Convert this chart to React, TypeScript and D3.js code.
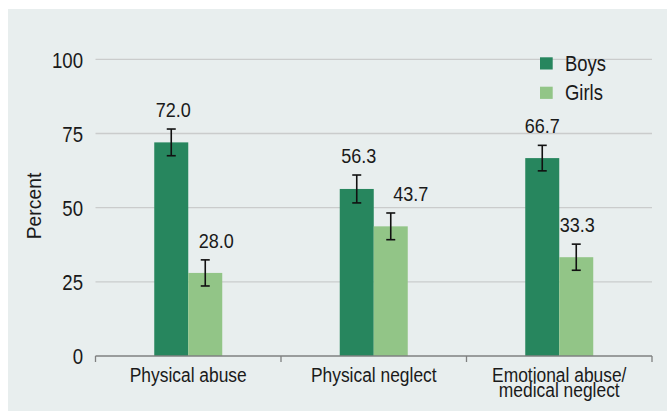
import React from "react";
import * as d3 from "d3";

const categories: string[][] = [["Physical abuse"], ["Physical neglect"], ["Emotional abuse/", "medical neglect"]];
const seriesNames = ["Boys", "Girls"];
const boys = [72.0, 56.3, 66.7];
const girls = [28.0, 43.7, 33.3];
const boysErr = [4.5, 4.7, 4.3];
const girlsErr = [4.4, 4.5, 4.4];
const yTicks = [0, 25, 50, 75, 100];

const colors = ["#27865e", "#92c587"];
const FONT = "'Liberation Sans', Arial, sans-serif";
const labelDx = [[2, 11], [2, 20], [0, 1]];
const textColor = "#1a1a1a";

function T(props: { x: number; y: number; size: number; sx?: number; anchor?: string; rotate?: number; children: React.ReactNode }) {
  const { x, y, size, sx = 0.84, anchor = "start", rotate = 0, children } = props;
  return (
    <text
      transform={`translate(${x},${y}) rotate(${rotate}) scale(${sx},1)`}
      textAnchor={anchor}
      fontSize={size}
      fill={textColor}
    >
      {children}
    </text>
  );
}

export default function App() {
  const W = 667, H = 411;
  const x0 = 95.5, x1 = 652;
  const y = d3.scaleLinear().domain([0, 100]).range([356, 59.3]);
  const xb = d3.scaleBand<number>().domain(categories.map((_, i) => i)).range([x0, x1]).paddingInner(0).paddingOuter(0);
  const barW = 34;
  const series = [boys, girls];
  const errs = [boysErr, girlsErr];

  return (
    <svg width={W} height={H} style={{ position: "absolute", left: 0, top: 0, display: "block" }} fontFamily={FONT}>
      <rect x={8} y={9} width={W - 8} height={H - 9} fill="#e8eeee" />
      {yTicks.filter((t) => t > 0).map((t) => (
        <line key={t} x1={x0} x2={x1} y1={y(t)} y2={y(t)} stroke="#cacccc" strokeWidth={1.3} />
      ))}
      {yTicks.map((t) => (
        <T key={t} x={83} y={y(t) + 8.3} size={23} sx={0.81} anchor="end">
          {t}
        </T>
      ))}
      <T x={41} y={206} size={21} sx={0.92} anchor="middle" rotate={-90}>
        Percent
      </T>
      {categories.map((c, i) => {
        const cx = (xb(i) as number) + xb.bandwidth() / 2;
        return (
          <g key={i}>
            {series.map((s, k) => {
              const bx = cx - barW + k * barW;
              const v = s[i];
              const e = errs[k][i];
              const mx = bx + barW / 2;
              return (
                <g key={k}>
                  <rect x={bx} y={y(v)} width={barW} height={y(0) - y(v)} fill={colors[k]} />
                  <line x1={mx} x2={mx} y1={y(v + e)} y2={y(v - e)} stroke="#111" strokeWidth={1.6} />
                  <line x1={mx - 4.5} x2={mx + 4.5} y1={y(v + e)} y2={y(v + e)} stroke="#111" strokeWidth={1.6} />
                  <line x1={mx - 4.5} x2={mx + 4.5} y1={y(v - e)} y2={y(v - e)} stroke="#111" strokeWidth={1.6} />
                  <T x={mx + labelDx[i][k]} y={y(v + e) - 12} size={21} sx={0.86} anchor="middle">
                    {v.toFixed(1)}
                  </T>
                </g>
              );
            })}
            {c.map((line, j) => (
              <T key={j} x={cx} y={381.5 + j * 15.5} size={20} sx={0.87} anchor="middle">
                {line}
              </T>
            ))}
          </g>
        );
      })}
      <line x1={x0} x2={x1} y1={y(0)} y2={y(0)} stroke="#7f8080" strokeWidth={1.3} />
      {d3.range(categories.length + 1).map((i) => {
        const tx = x0 + i * xb.bandwidth();
        return <line key={i} x1={tx} x2={tx} y1={y(0)} y2={y(0) + 6} stroke="#7f8080" strokeWidth={1.3} />;
      })}
      {seriesNames.map((n, k) => (
        <g key={n}>
          <rect x={540} y={57.3 + k * 29.4} width={12.7} height={12.2} fill={colors[k]} />
          <T x={565} y={70.8 + k * 29.4} size={22} sx={0.84}>
            {n}
          </T>
        </g>
      ))}
    </svg>
  );
}
